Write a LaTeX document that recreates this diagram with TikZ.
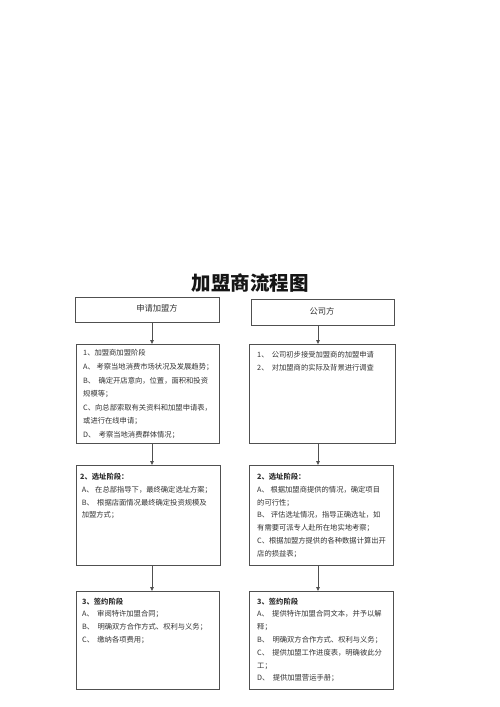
\documentclass[tikz,border=0pt]{standalone}
\usepackage{fontspec}
\setmainfont{Noto Sans CJK SC}
\usetikzlibrary{arrows.meta}
\definecolor{boxc}{HTML}{505050}
\definecolor{txtc}{HTML}{333333}
\definecolor{titc}{HTML}{151515}
\begin{document}
\begin{tikzpicture}[x=1pt,y=-1pt,
  box/.style={draw=boxc, line width=0.9pt, inner sep=0pt, anchor=north west},
  txt/.style={anchor=north west, inner sep=0pt, align=left, text=txtc, font=\fontsize{7.3}{12.8}\selectfont},
  arr/.style={draw=boxc, line width=0.8pt, -{Triangle[length=4pt,width=3.5pt]}}]
\useasboundingbox[fill=white] (0,0) rectangle (500,707);
% title
\node[text=titc, font=\fontsize{19.5}{22}\selectfont\bfseries] (title) at (250,283) {加盟商流程图};
% headers
\node[box, minimum width=144pt, minimum height=25pt] (hl) at (75,297) {};
\node[box, minimum width=143pt, minimum height=26pt] (hr) at (251,299) {};
\node[text=txtc, font=\fontsize{8.3}{10}\selectfont] (hlt) at (157,308) {申请加盟方};
\node[text=txtc, font=\fontsize{8.3}{10}\selectfont] (hrt) at (322,311) {公司方};
% row 1
\node[box, minimum width=143pt, minimum height=99pt] (l1) at (76,344) {};
\node[box, minimum width=146pt, minimum height=99pt] (r1) at (249,344) {};
\node[txt, font=\fontsize{7.3}{13.6}\selectfont] (l1t) at (83,349.5) {1、加盟商加盟阶段\\
A、\ 考察当地消费市场状况及发展趋势；\\
B、\ \ 确定开店意向，位置，面积和投资\\
规模等；\\
C、向总部索取有关资料和加盟申请表，\\
或进行在线申请；\\
D、\ \ 考察当地消费群体情况；};
\node[txt] (r1t) at (257,351.5) {1、\ \ 公司初步接受加盟商的加盟申请\\
2、\ \ 对加盟商的实际及背景进行调查};
% row 2
\node[box, minimum width=144pt, minimum height=100pt] (l2) at (76,465) {};
\node[box, minimum width=144pt, minimum height=100pt] (r2) at (249,465) {};
\node[txt] (l2t) at (80,473) {\textbf{2、选址阶段：}\\
\ A、\ 在总部指导下，最终确定选址方案；\\
\ B、\ \ 根据店面情况最终确定投资规模及\\
\ 加盟方式；};
\node[txt] (r2t) at (257,473) {\textbf{2、选址阶段：}\\
A、\ 根据加盟商提供的情况，确定项目\\
的可行性；\\
B、\ 评估选址情况，指导正确选址，如\\
有需要可派专人赴所在地实地考察；\\
C、根据加盟方提供的各种数据计算出开\\
店的损益表；};
% row 3
\node[box, minimum width=143pt, minimum height=98pt] (l3) at (76,591) {};
\node[box, minimum width=144pt, minimum height=98pt] (r3) at (249,591) {};
\node[txt] (l3t) at (82,597.5) {\textbf{3、签约阶段}\\
A、\ \ 审阅特许加盟合同；\\
B、\ \ 明确双方合作方式、权利与义务；\\
C、\ \ 缴纳各项费用；};
\node[txt] (r3t) at (257,597.5) {\textbf{3、签约阶段}\\
A、\ \ 提供特许加盟合同文本，并予以解\\
释；\\
B、\ \ 明确双方合作方式、权利与义务；\\
C、\ \ 提供加盟工作进度表，明确彼此分\\
工；\\
D、\ \ 提供加盟营运手册；};
% arrows
\coordinate (axl) at (152,0);
\coordinate (axr) at (318,0);
\draw[arr] (hl.south -| axl) -- (l1.north -| axl);
\draw[arr] (l1.south -| axl) -- (l2.north -| axl);
\draw[arr] (l2.south -| axl) -- (l3.north -| axl);
\draw[arr] (hr.south -| axr) -- (r1.north -| axr);
\draw[arr] (r1.south -| axr) -- (r2.north -| axr);
\draw[arr] (r2.south -| axr) -- (r3.north -| axr);
\end{tikzpicture}
\end{document}
